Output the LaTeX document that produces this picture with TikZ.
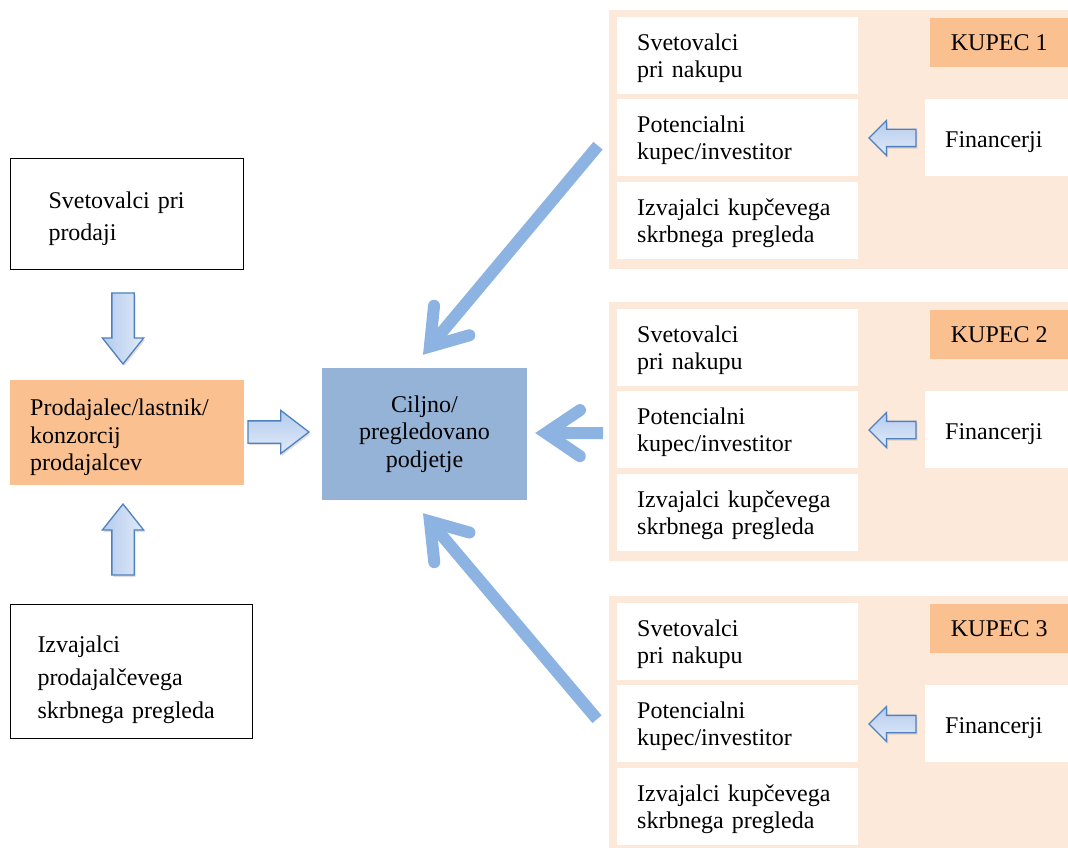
\documentclass[tikz,border=0pt]{standalone}
\usepackage{fontspec}
\setmainfont{Liberation Serif}
\usetikzlibrary{arrows.meta,shapes.arrows,shadows,calc}

\definecolor{sellerfill}{HTML}{FAC090}
\definecolor{panelfill}{HTML}{FDE9D9}
\definecolor{targetfill}{HTML}{95B3D7}
\definecolor{flowblue}{HTML}{8DB3E2}
\definecolor{blockedge}{HTML}{4F81BD}
\definecolor{blockdark}{HTML}{B4CBEE}
\definecolor{blocklight}{HTML}{E0EAF8}

\tikzset{
  txt/.style={font=\fontsize{24}{28}\selectfont},
  % an invisible strut on the first line lowers the text block a little
  lower/.style={execute at begin node={\rule{0pt}{#1}}},
  framed/.style={txt, draw=black, line width=1pt, fill=white, anchor=north west,
    align=left, inner ysep=0pt},
  sellerbox/.style={txt, fill=sellerfill, anchor=north west, align=left,
    inner ysep=0pt, text width=194pt, inner xsep=20pt, minimum height=105pt},
  targetbox/.style={txt, fill=targetfill, align=center, minimum width=205pt,
    minimum height=132pt, inner sep=0pt, font=\fontsize{24}{27.5}\selectfont},
  panel/.style={fill=panelfill, anchor=north west, minimum width=459pt, inner sep=0pt},
  rolebox/.style={txt, fill=white, anchor=north west, align=left, text width=201pt,
    inner xsep=20pt, inner ysep=0pt, minimum height=77pt,
    font=\fontsize{24}{27}\selectfont, lower=22.5pt},
  buyertag/.style={txt, fill=sellerfill, anchor=north west, minimum width=138pt,
    minimum height=49pt, inner sep=0pt},
  financebox/.style={txt, fill=white, anchor=north west, align=left, text width=103pt,
    inner xsep=20pt, inner ysep=0pt, minimum height=77pt, lower=24.5pt},
  blockarrow/.style={single arrow, anchor=tip, draw=blockedge, line width=1.3pt,
    drop shadow={shadow xshift=1.5pt, shadow yshift=-2pt, opacity=0.25}},
  flow/.style={draw=flowblue, line width=12pt,
    -{Straight Barb[length=34pt, width=46pt, line cap=round, line join=miter]}},
}

\begin{document}
\begin{tikzpicture}[x=1pt, y=-1pt]
\useasboundingbox (0,0) rectangle (1068,848);

% seller side
\node[framed, text width=157pt, inner xsep=38pt, minimum height=111pt,
  font=\fontsize{24}{32}\selectfont, lower=26.5pt] (advs) at (10,158)
  {Svetovalci pri\\prodaji};
\node[sellerbox, font=\fontsize{24}{27.5}\selectfont, lower=26.5pt] (seller) at (10,380)
  {Prodajalec/lastnik/\\konzorcij\\prodajalcev};
\node[framed, text width=188pt, inner xsep=27pt, minimum height=134pt,
  font=\fontsize{24}{33}\selectfont, lower=34pt] (vdd) at (10,604)
  {Izvajalci\\prodajalčevega\\skrbnega pregleda};

% target company
\node[targetbox, lower=24.5pt] (target) at (424.5,434) {Ciljno/\\pregledovano\\podjetje};

% seller-side block arrows, placed by their tips
\node[blockarrow, shape border rotate=270, inner sep=10.5pt, minimum height=71pt,
  single arrow head extend=9.5pt, single arrow tip angle=77,
  left color=blockdark, right color=blocklight] (adown) at (123,365) {};
\node[blockarrow, shape border rotate=90, inner sep=10.5pt, minimum height=71pt,
  single arrow head extend=9.5pt, single arrow tip angle=77,
  left color=blockdark, right color=blocklight] (aup) at (123,503) {};
\node[blockarrow, inner sep=10.5pt, minimum height=61pt,
  single arrow head extend=10.5pt, single arrow tip angle=75,
  top color=blockdark, bottom color=blocklight] (aright) at (310,432) {};

% buyer panels
\foreach \i/\t/\h in {1/10/259, 2/302/259, 3/596/252} {
  \node[panel, minimum height=\h pt] (p\i) at (609,\t) {};
  \node[rolebox] (adv\i) at (617,\t+7) {Svetovalci\\pri nakupu};
  \node[rolebox] (buyer\i) at (617,\t+89) {Potencialni\\kupec/investitor};
  \node[rolebox] (bdd\i) at (617,\t+172) {Izvajalci kupčevega\\skrbnega pregleda};
  \node[buyertag] (tag\i) at (930,\t+8) {KUPEC \i};
  \node[financebox] (fin\i) at (925,\t+89) {Financerji};
  \node[blockarrow, shape border rotate=180, inner sep=8pt, minimum height=47pt,
    single arrow head extend=9pt, single arrow tip angle=90,
    top color=blockdark, bottom color=blocklight] (afin\i) at (868,\t+128) {};
}

% buyer flows into the target company
\draw[flow] ($(p1.west)+(-11,6)$) -- ($(target.north)+(-1.5,-13)$);
\draw[flow] ($(p2.west)+(-6,1.5)$) -- ($(target.east)+(8,-1)$);
\draw[flow] ($(p3.west)+(-12,-3)$) -- ($(target.south)+(-1.5,13)$);
\end{tikzpicture}
\end{document}
